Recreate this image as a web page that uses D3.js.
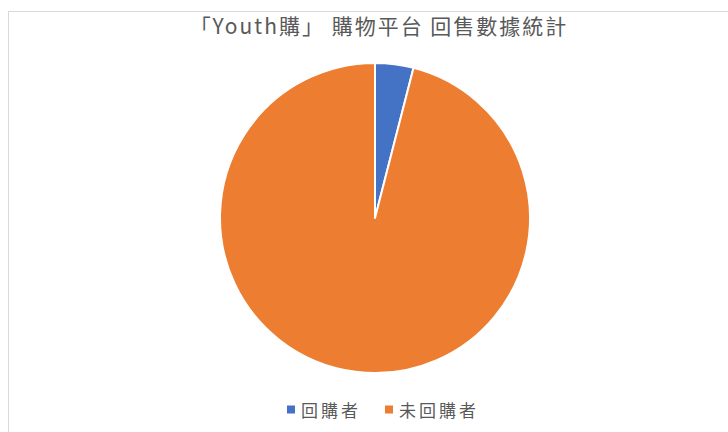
<!DOCTYPE html>
<html>
<head>
<meta charset="utf-8">
<script src="https://cdn.jsdelivr.net/npm/d3@7"></script>
<style>
  html, body { margin: 0; padding: 0; background: #fff; }
  svg { display: block; }
  text { font-family: "Noto Sans CJK TC", "Noto Sans", sans-serif; fill: #595959; }
</style>
</head>
<body>
<svg id="chart" width="728" height="432"></svg>
<script>
// Repurchase statistics for the platform
const categories = ["回購者", "未回購者"];
const values = [4, 96];
const colors = ["#4472c4", "#ed7d31"];
const title = "「Youth購」 購物平台 回售數據統計";

const svg = d3.select("#chart");

// chart frame
svg.append("rect")
  .attr("x", 8.5).attr("y", 11.5)
  .attr("width", 760).attr("height", 460)
  .attr("fill", "#fff")
  .attr("stroke", "#d9d9d9")
  .attr("stroke-width", 1);

// title
svg.append("text")
  .attr("x", 379).attr("y", 34)
  .attr("text-anchor", "middle")
  .style("font-size", "21px")
  .style("letter-spacing", "2px")
  .text(title);

// pie
const cx = 375, cy = 218, r = 155;
const pie = d3.pie().sort(null).value(d => d.v);
const arc = d3.arc().innerRadius(0).outerRadius(r);
const data = categories.map((c, i) => ({ c, v: values[i], color: colors[i] }));

svg.append("g")
  .attr("transform", `translate(${cx},${cy})`)
  .selectAll("path")
  .data(pie(data))
  .join("path")
  .attr("d", arc)
  .attr("fill", d => d.data.color)
  .attr("stroke", "#fff")
  .attr("stroke-width", 2)
  .attr("stroke-linejoin", "round");

// legend
const legendX = [287, 385];
const items = svg.append("g").selectAll("g")
  .data(data)
  .join("g")
  .attr("transform", (d, i) => `translate(${legendX[i]},409.5)`);
items.append("rect")
  .attr("x", 0).attr("y", -4)
  .attr("width", 8).attr("height", 8)
  .attr("fill", d => d.color);
items.append("text")
  .attr("x", 14).attr("y", 0)
  .style("font-size", "17px")
  .style("letter-spacing", "3px")
  .attr("dominant-baseline", "central")
  .text(d => d.c);
</script>
</body>
</html>
